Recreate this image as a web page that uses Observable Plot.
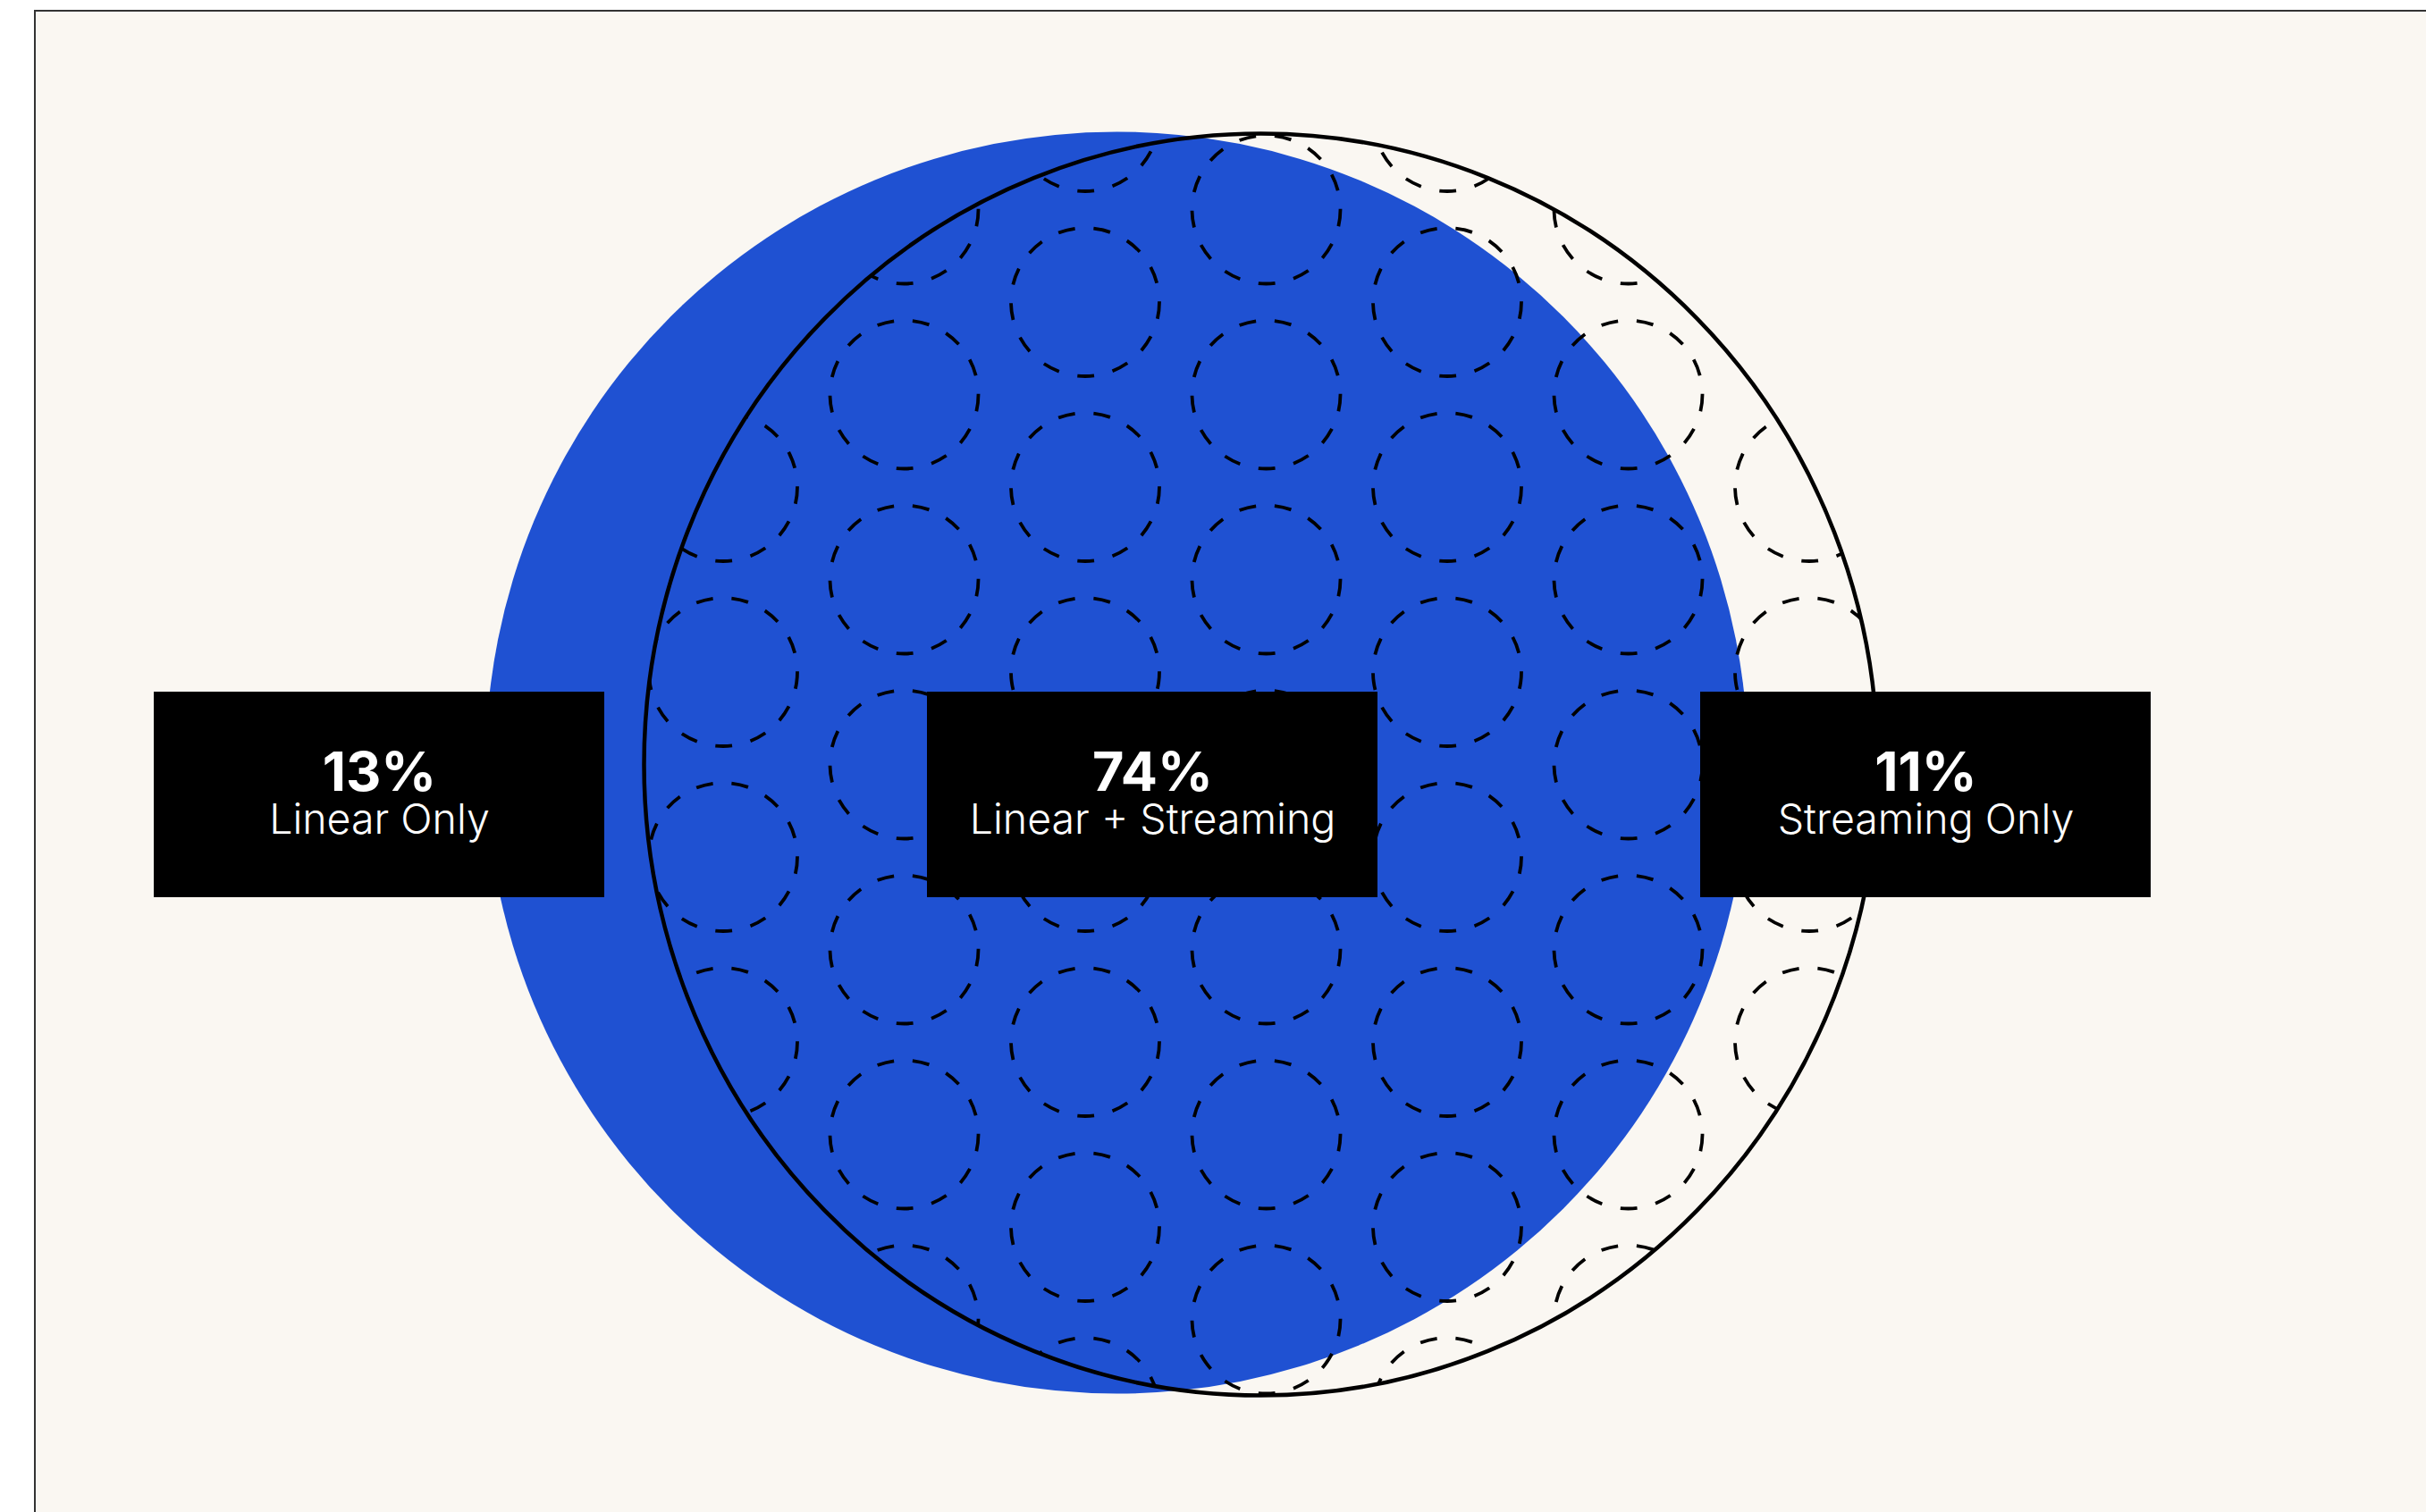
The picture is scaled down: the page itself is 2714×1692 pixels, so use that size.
<!DOCTYPE html>
<html>
<head>
<meta charset="utf-8">
<script src="https://cdn.jsdelivr.net/npm/d3@7"></script>
<script src="https://cdn.jsdelivr.net/npm/@observablehq/plot@0.6"></script>
<style>
  html, body { margin: 0; padding: 0; background: #ffffff; }
  #panel {
    position: absolute; left: 38px; top: 11px;
    width: 2674px; height: 1679px;
    border-left: 2px solid #333; border-top: 2px solid #333;
    background: #faf7f2; overflow: hidden;
  }
</style>
</head>
<body>
<div id="panel"></div>
<script>
// ---- data ----
const categories = ["Linear Only", "Linear + Streaming", "Streaming Only"];
const shares = [13, 74, 11];
const sets = ["Linear", "Streaming"];

// ---- layout (pixels inside the panel) ----
const W = 2674, H = 1679;
const linearCircle = {set: sets[0], cx: 1209, cy: 840, r: 706};
const streamCircle = {set: sets[1], cx: 1370, cy: 842, r: 690, ry: 706};
const lattice = {x0: 1376, y0: 842, dx: 202.5, dy: 207, r: 83};
const box = {w: 504, y1: 761, y2: 991, pctY: 871, catY: 919};

// label positions: evenly spaced point scale
const px = d3.scalePoint().domain(categories).range([384, 2114]);
const labels = categories.map((c, i) => ({category: c, share: shares[i], x: px(c)}));

// decorative hex pattern of dashed rings inside the streaming circle
const pattern = [];
for (let j = -4; j <= 4; j++) {
  for (let k = -5; k <= 5; k++) {
    const x = lattice.x0 + j * lattice.dx;
    const y = lattice.y0 + k * lattice.dy + (Math.abs(j) % 2 ? lattice.dy / 2 : 0);
    if (Math.hypot(x - streamCircle.cx, y - streamCircle.cy) < streamCircle.ry + lattice.r) pattern.push({x, y});
  }
}

const chart = Plot.plot({
  width: W,
  height: H,
  margin: 0,
  x: {type: "identity"},
  y: {type: "identity"},
  r: {type: "identity"},
  style: {background: "transparent", fontFamily: "Inter, 'Open Sans', sans-serif"},
  marks: [
    Plot.dot([linearCircle], {x: "cx", y: "cy", r: "r", fill: "#1f51d2", stroke: null}),
    Plot.dot(pattern, {x: "x", y: "y", r: lattice.r, fill: "none", stroke: "#000", strokeWidth: 3.8, strokeDasharray: "19,21"}),
    Plot.dot([streamCircle], {x: "cx", y: "cy", r: "r", fill: "none", stroke: "#000", strokeWidth: 4.5}),
    Plot.rect(labels, {x1: d => d.x - box.w / 2, x2: d => d.x + box.w / 2, y1: box.y1, y2: box.y2, fill: "#000"}),
    Plot.text(labels, {x: "x", y: box.pctY, text: d => d.share + "%", fill: "#fff", fontSize: 61, fontWeight: 700, lineAnchor: "bottom"}),
    Plot.text(labels, {x: "x", y: box.catY, text: "category", fill: "#fff", fontSize: 46.5, fontWeight: 300, lineAnchor: "bottom"})
  ]
});

// the streaming outline is slightly taller than wide: stretch it vertically
const svg = d3.select(chart);
const {cx, cy, r, ry} = streamCircle;
svg.insert("defs", ":first-child")
  .append("clipPath").attr("id", "streamClip")
  .append("ellipse").attr("cx", cx).attr("cy", cy).attr("rx", r).attr("ry", ry);
const dotGroups = chart.querySelectorAll('g[aria-label="dot"]');
if (dotGroups[1]) dotGroups[1].setAttribute("clip-path", "url(#streamClip)");
if (dotGroups[2]) {
  const prev = dotGroups[2].getAttribute("transform") || "";
  dotGroups[2].setAttribute("transform",
    `translate(${cx},${cy}) scale(1,${ry / r}) translate(${-cx},${-cy}) ${prev}`);
}

document.getElementById("panel").appendChild(chart);
</script>
</body>
</html>
